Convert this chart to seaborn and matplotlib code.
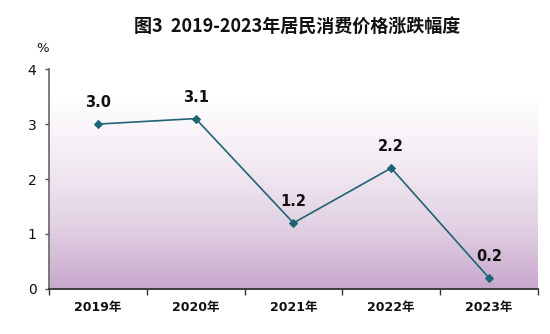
import numpy as np
import pandas as pd
import matplotlib
matplotlib.use("Agg")
import matplotlib.pyplot as plt
import seaborn as sns
from matplotlib.colors import LinearSegmentedColormap

years = ["2019年", "2020年", "2021年", "2022年", "2023年"]
values = [3.0, 3.1, 1.2, 2.2, 0.2]
value_labels = ["3.0", "3.1", "1.2", "2.2", "0.2"]
y_ticks = [0, 1, 2, 3, 4]
title = "图3  2019-2023年居民消费价格涨跌幅度"

sns.set_theme(style="white")
plt.rcParams['font.family'] = ['Noto Sans CJK SC', 'DejaVu Sans']

fig = plt.figure(figsize=(5.5, 3.34), dpi=100)
ax = fig.add_axes([0.089, 0.135, 0.889, 0.658])

df = pd.DataFrame({"x": np.arange(len(years)), "y": values})

# gradient background
cmap = LinearSegmentedColormap.from_list("g", ["#ffffff", "#f3ebf3", "#e2d2e4", "#c8a8cc"])
grad = np.linspace(0, 1, 256).reshape(-1, 1)
ax.imshow(grad, extent=[-0.5, 4.5, 0, 3.5], origin="upper", aspect="auto",
          cmap=cmap, zorder=0)

sns.lineplot(data=df, x="x", y="y", ax=ax, color="#1f6474", linewidth=1.2,
             marker="D", markersize=4.5, markeredgecolor="#1f6474", zorder=3)

for xi, yi, lab in zip(df["x"], values, value_labels):
    ax.annotate(lab, (xi, yi), xytext=(0, 10), textcoords="offset points",
                ha="center", va="bottom", fontsize=10.5, fontweight="bold",
                fontfamily="DejaVu Sans", color="#111111")

ax.set_xlim(-0.5, 4.5)
ax.set_ylim(0, 4)
ax.set_yticks(y_ticks)
ax.set_yticklabels([str(t) for t in y_ticks], fontsize=10, color="#111111",
                   fontfamily="DejaVu Sans")
ax.set_xticks(np.arange(-0.5, 5, 1))
ax.set_xticklabels([])
ax.set_xticks(np.arange(len(years)), minor=True)
ax.set_xticklabels(years, minor=True, fontsize=9, fontweight="bold", color="#111111",
                   fontfamily=["DejaVu Sans", "Noto Sans CJK SC"])
ax.tick_params(axis="x", which="major", direction="out", length=4, width=1, color="#333333", bottom=True)
ax.tick_params(axis="x", which="minor", length=0, pad=9)
ax.tick_params(axis="y", direction="out", length=3, width=1, color="#555555", left=True, pad=6)
ax.set_xlabel("")
ax.set_ylabel("")

for s in ["top", "right"]:
    ax.spines[s].set_visible(False)
ax.spines["left"].set_color("#666666")
ax.spines["left"].set_linewidth(1.2)
ax.spines["bottom"].set_color("#333333")
ax.spines["bottom"].set_linewidth(1.3)

fig.text(0.54, 0.92, title, ha="center", va="center", fontsize=13, fontweight="bold", color="#111111")
fig.text(0.078, 0.855, "%", ha="center", va="center", fontsize=9.5, color="#111111",
         fontfamily="DejaVu Sans")

fig.savefig("out.png", dpi=100, facecolor="white")
